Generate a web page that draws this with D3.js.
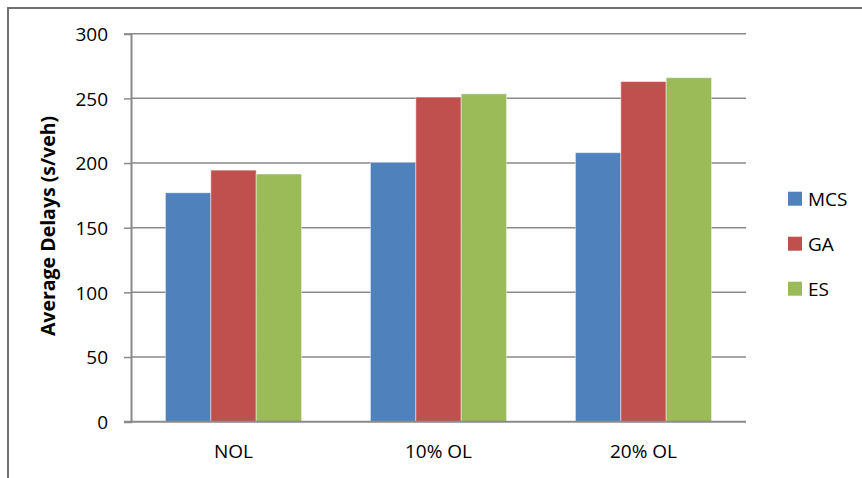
<!DOCTYPE html>
<meta charset="utf-8">
<style>
body { margin: 0; background: #fff; }
text { font-family: "Open Sans", "Liberation Sans", sans-serif; fill: #000; }
.grid line { stroke: #8a8a8a; stroke-width: 1.5px; }
.bar { stroke: #fff; stroke-opacity: 0.45; stroke-width: 1px; }
</style>
<svg width="862" height="478"></svg>
<script src="https://d3js.org/d3.v7.min.js"></script>
<script>

var categories = ["NOL", "10% OL", "20% OL"];
var series = ["MCS", "GA", "ES"];
var colors = ["#4f81bd", "#c0504d", "#9bbb59"];
// values per series, one per category
var mcs = [177, 200.5, 208];
var ga  = [194.5, 251, 263];
var es  = [191.5, 253.5, 266];
var yTicks = [0, 50, 100, 150, 200, 250, 300];

var values = [mcs, ga, es];

var svg = d3.select("svg");

var plotLeft = 131, plotRight = 746, plotTop = 33.7, plotBottom = 421.7;

// chart frame (only top and left edges fall inside the picture)
svg.append("path")
    .attr("d", "M8,478V8H862")
    .attr("fill", "none")
    .attr("stroke", "#707070")
    .attr("stroke-width", 2);

var y = d3.scaleLinear().domain([0, 300]).range([plotBottom, plotTop]);

var x0 = d3.scaleBand()
    .domain(categories)
    .range([plotLeft, plotRight])
    .paddingInner(0.336)
    .paddingOuter(0.168);

var x1 = d3.scaleBand()
    .domain(series)
    .range([0, x0.bandwidth()]);

// gridlines
svg.append("g").attr("class", "grid")
  .selectAll("line")
  .data(yTicks.filter(function(d) { return d > 0; }))
  .enter().append("line")
    .attr("x1", plotLeft)
    .attr("x2", plotRight)
    .attr("y1", function(d) { return y(d); })
    .attr("y2", function(d) { return y(d); });

// bars
var rows = [];
categories.forEach(function(c, i) {
  series.forEach(function(s, j) {
    rows.push({cat: c, ser: s, val: values[j][i], col: colors[j]});
  });
});

svg.append("g")
  .selectAll("rect")
  .data(rows)
  .enter().append("rect")
    .attr("class", "bar")
    .attr("x", function(d) { return x0(d.cat) + x1(d.ser); })
    .attr("width", x1.bandwidth())
    .attr("y", function(d) { return y(d.val); })
    .attr("height", function(d) { return plotBottom - y(d.val); })
    .attr("fill", function(d) { return d.col; });

// y axis
var yAxis = svg.append("g")
    .attr("transform", "translate(" + plotLeft + ",0)")
    .call(d3.axisLeft(y).tickValues(yTicks).tickSize(7).tickPadding(16));
yAxis.select(".domain").attr("stroke", "#8a8a8a").attr("stroke-width", 2);
yAxis.selectAll(".tick line").attr("stroke", "#8a8a8a").attr("stroke-width", 1.5);
yAxis.selectAll("text").style("font-size", "19px").attr("dy", "0.36em");

// x axis
var xAxis = svg.append("g")
    .attr("transform", "translate(0," + plotBottom + ")")
    .call(d3.axisBottom(x0).tickSize(0).tickPadding(23));
xAxis.select(".domain").attr("d", "M124,0H" + plotRight)
    .attr("stroke", "#8a8a8a").attr("stroke-width", 2);
xAxis.selectAll("text").style("font-size", "19px");

// axis title
svg.append("text")
    .attr("transform", "translate(55,226) rotate(-90)")
    .attr("text-anchor", "middle")
    .style("font-size", "19.5px")
    .style("font-weight", "bold")
    .text("Average Delays (s/veh)");

// legend
var legend = svg.append("g").selectAll("g")
  .data(series)
  .enter().append("g")
    .attr("transform", function(d, i) { return "translate(788," + (198.7 + i * 45) + ")"; });

legend.append("rect")
    .attr("x", 0)
    .attr("y", -7)
    .attr("width", 14)
    .attr("height", 14)
    .attr("fill", function(d, i) { return colors[i]; });

legend.append("text")
    .attr("x", 20)
    .attr("dy", "0.36em")
    .style("font-size", "19px")
    .text(function(d) { return d; });

</script>
